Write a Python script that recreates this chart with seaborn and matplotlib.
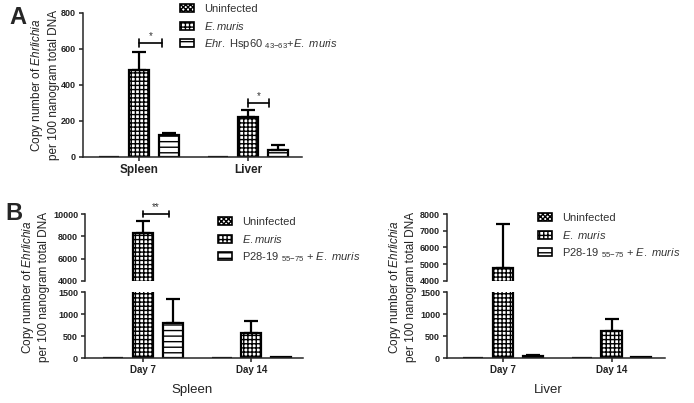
import matplotlib
matplotlib.use('Agg')
import matplotlib.pyplot as plt
from matplotlib.patches import Patch
import numpy as np
import pandas as pd
import seaborn as sns


# Panel A: Ehr. Hsp60 peptide immunisation, copy numbers per organ
tissues_a = ['Spleen', 'Liver']
uninf_a = [0, 0]
emuris_a = [483, 222]
hsp60_a = [121, 39]
uninf_a_err = [0, 0]
emuris_a_err = [102, 39]
hsp60_a_err = [12, 28]

# Panel B: P28-19 peptide, spleen and liver at day 7 / day 14
days = ['Day 7', 'Day 14']
spleen_uninf = [0, 0]
spleen_emuris = [8320, 562]
spleen_p28 = [787, 15]
spleen_uninf_err = [0, 0]
spleen_emuris_err = [1050, 278]
spleen_p28_err = [548, 0]

liver_uninf = [0, 0]
liver_emuris = [4780, 614]
liver_p28 = [40, 12]
liver_uninf_err = [0, 0]
liver_emuris_err = [2600, 280]
liver_p28_err = [30, 0]

groups = ['Uninfected', 'E.muris', 'Peptide+E.muris']
hatches = ['xxxxxxx', '++++', '---']

ylab = 'Copy number of $\\it{Ehrlichia}$\nper 100 nanogram total DNA'


def make_frame(cats, cols, errs):
    rows = []
    for g, vals, ee in zip(groups, cols, errs):
        for c, v, e in zip(cats, vals, ee):
            rows.append({'cat': c, 'group': g, 'value': v, 'err': e})
    return pd.DataFrame(rows)


sns.set_style('ticks')
plt.rcParams['font.family'] = ['Liberation Sans', 'DejaVu Sans']
plt.rcParams['mathtext.fontset'] = 'custom'
plt.rcParams['mathtext.rm'] = 'Liberation Sans'
plt.rcParams['mathtext.it'] = 'Liberation Sans:italic'
plt.rcParams['mathtext.bf'] = 'Liberation Sans:bold'
plt.rcParams['hatch.linewidth'] = 1.0
plt.rcParams['axes.linewidth'] = 1.1

W, H = 694, 403
fig = plt.figure(figsize=(W / 100, H / 100), dpi=100)


def px_axes(left, top, right, bottom):
    return fig.add_axes([left / W, 1 - bottom / H, (right - left) / W, (bottom - top) / H])


def draw_bars(ax, df, cats):
    sns.barplot(data=df, x='cat', y='value', hue='group', order=cats,
                hue_order=groups, palette=['white'] * 3, saturation=1,
                errorbar=None, width=0.826, gap=0.33, edgecolor='black',
                linewidth=1.6, legend=False, ax=ax)
    conts = list(ax.containers)
    for gi, cont in enumerate(conts):
        sub = df[df['group'] == groups[gi]].set_index('cat').loc[cats]
        for bar, e in zip(cont, sub['err']):
            bar.set_hatch(hatches[gi])
            if e > 0:
                x = bar.get_x() + bar.get_width() / 2
                ax.errorbar(x, bar.get_height(), yerr=[[0], [e]], fmt='none',
                            ecolor='black', elinewidth=1.6, capsize=5,
                            capthick=1.6, zorder=1)
    ax.set_xlabel('')
    ax.set_ylabel('')
    sns.despine(ax=ax)
    ax.tick_params(axis='both', width=1.1, length=3, pad=2, colors='#222222')


def bracket(ax, x0, x1, y, label, dy):
    ax.plot([x0, x1], [y, y], color='black', lw=1.2, clip_on=False)
    for xx in (x0, x1):
        ax.plot([xx, xx], [y - dy, y + dy], color='black', lw=1.2, clip_on=False)
    ax.text((x0 + x1) / 2, y + dy * 0.6, label, ha='center', va='bottom',
            fontsize=7, color='#333333', clip_on=False)


def legend(labels, x, y):
    handles = [Patch(facecolor='white', edgecolor='black', hatch=h, linewidth=1.2)
               for h in hatches]
    leg = fig.legend(handles, labels, loc='upper left',
                     bbox_to_anchor=(x / W, 1 - y / H), frameon=False,
                     fontsize=8, handlelength=1.3, handleheight=0.7,
                     handletextpad=0.9, labelspacing=0.5, borderpad=0,
                     borderaxespad=0)
    for t in leg.get_texts():
        t.set_color('#333333')


# ---- panel A
df_a = make_frame(tissues_a, [uninf_a, emuris_a, hsp60_a],
                  [uninf_a_err, emuris_a_err, hsp60_a_err])
ax_a = px_axes(83, 13, 302, 157)
draw_bars(ax_a, df_a, tissues_a)
ax_a.set_ylim(0, 800)
ax_a.set_yticks(np.arange(0, 801, 200))
ax_a.set_xlim(-0.514, 1.495)
for lab in ax_a.get_yticklabels():
    lab.set_fontsize(6.5)
    lab.set_fontweight('bold')
for lab in ax_a.get_xticklabels():
    lab.set_fontsize(8.5)
    lab.set_fontweight('bold')
bracket(ax_a, 0.0, 0.21, 633, '*', 22)
bracket(ax_a, 1.0, 1.19, 300, '*', 22)
fig.text(44.5 / W, 1 - 85 / H, ylab, rotation=90, ha='center', va='center',
         fontsize=8.5, linespacing=1.25, color='#222222')
legend(['Uninfected', '$\\it{E.muris}$',
        '$\\it{Ehr.}$ Hsp60 $_{43{-}63}$+$\\it{E.\\ muris}$'], 180, 4)
fig.text(18 / W, 1 - 17 / H, 'A', fontsize=17, fontweight='bold',
         ha='center', va='center')


# ---- panel B
def broken_panel(left, right, cols, errs, top_lim, top_ticks, xlim, title, tx):
    df = make_frame(days, cols, errs)
    ax_top = px_axes(left, 214, right, 281)
    ax_bot = px_axes(left, 292, right, 358)
    draw_bars(ax_top, df, days)
    draw_bars(ax_bot, df, days)
    ax_top.set_ylim(*top_lim)
    ax_top.set_yticks(top_ticks)
    ax_bot.set_ylim(0, 1500)
    ax_bot.set_yticks([0, 500, 1000, 1500])
    for ax in (ax_top, ax_bot):
        ax.set_xlim(*xlim)
        for lab in ax.get_yticklabels():
            lab.set_fontsize(6.5)
            lab.set_fontweight('bold')
        for lab in ax.get_xticklabels():
            lab.set_fontsize(7)
            lab.set_fontweight('bold')
    ax_top.spines['bottom'].set_visible(False)
    ax_top.tick_params(axis='x', bottom=False, labelbottom=False)
    fig.text(tx / W, 1 - 390 / H, title, fontsize=9.5, ha='center',
             va='center', color='#222222')
    return ax_top, ax_bot


spl_top, spl_bot = broken_panel(85, 303, [spleen_uninf, spleen_emuris, spleen_p28],
                                [spleen_uninf_err, spleen_emuris_err, spleen_p28_err],
                                (4000, 10000), [4000, 6000, 8000, 10000],
                                (-0.535, 1.475), 'Spleen', 192)
bracket(spl_top, 0.0, 0.24, 10000, '**', 300)
fig.text(35 / W, 1 - 287 / H, ylab, rotation=90, ha='center', va='center',
         fontsize=8.5, linespacing=1.25, color='#222222')
legend(['Uninfected', '$\\it{E.muris}$',
        'P28-19 $_{55{-}75}$ + $\\it{E.\\ muris}$'], 218, 217)

liv_top, liv_bot = broken_panel(447, 665, [liver_uninf, liver_emuris, liver_p28],
                                [liver_uninf_err, liver_emuris_err, liver_p28_err],
                                (4000, 8000), [4000, 5000, 6000, 7000, 8000],
                                (-0.516, 1.493), 'Liver', 548)
fig.text(402 / W, 1 - 287 / H, ylab, rotation=90, ha='center', va='center',
         fontsize=8.5, linespacing=1.25, color='#222222')
legend(['Uninfected', '$\\it{E.\\ muris}$',
        'P28-19 $_{55{-}75}$ + $\\it{E.\\ muris}$'], 538, 213)
fig.text(14 / W, 1 - 214 / H, 'B', fontsize=17, fontweight='bold',
         ha='center', va='center')

fig.savefig('out.png', dpi=100)
